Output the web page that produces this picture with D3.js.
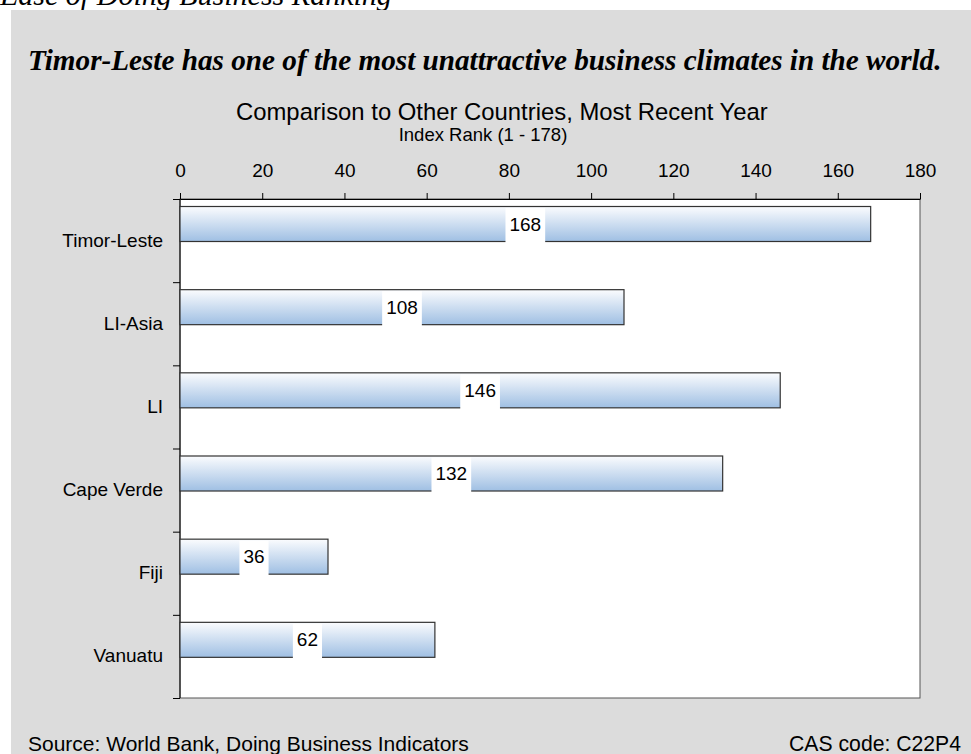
<!DOCTYPE html>
<html>
<head>
<meta charset="utf-8">
<script src="https://cdn.jsdelivr.net/npm/d3@7"></script>
<style>
  html, body { margin: 0; padding: 0; background: #ffffff; }
  svg { display: block; }
</style>
</head>
<body>
<script>
// Ease of Doing Business ranks, most recent year
const countries = ["Timor-Leste", "LI-Asia", "LI", "Cape Verde", "Fiji", "Vanuatu"];
const ranks = [168, 108, 146, 132, 36, 62];
const xTicks = [0, 20, 40, 60, 80, 100, 120, 140, 160, 180];

const W = 971, H = 754;
const plot = { left: 180, right: 920, top: 199, bottom: 698 };
const serif = "Liberation Serif, Times New Roman, serif";
const sans = "Liberation Sans, Arial, sans-serif";

const svg = d3.select("body").append("svg")
  .attr("width", W).attr("height", H);

const defs = svg.append("defs");
const grad = defs.append("linearGradient")
  .attr("id", "barFill").attr("x1", 0).attr("y1", 0).attr("x2", 0).attr("y2", 1);
grad.append("stop").attr("offset", "0%").attr("stop-color", "#fbfcfe");
grad.append("stop").attr("offset", "100%").attr("stop-color", "#9fbfe3");

// scale a text's font so that it spans the given width
function fitWidth(sel, width) {
  const fs = +sel.attr("font-size");
  const len = sel.node().getComputedTextLength();
  sel.attr("font-size", (fs * width / len).toFixed(2));
  return sel;
}

// page header, partly cut off at the top
fitWidth(svg.append("text")
  .attr("x", 0).attr("y", 5)
  .attr("font-family", serif).attr("font-style", "italic")
  .attr("font-size", 22).attr("fill", "#000")
  .text("Ease of Doing Business Ranking"), 392);

// grey chart panel
svg.append("rect")
  .attr("x", 11).attr("y", 10)
  .attr("width", W - 11).attr("height", H - 10)
  .attr("fill", "#dcdcdc");

fitWidth(svg.append("text")
  .attr("x", 28).attr("y", 70)
  .attr("font-family", serif)
  .attr("font-style", "italic").attr("font-weight", "bold")
  .attr("font-size", 26).attr("fill", "#000")
  .text("Timor-Leste has one of the most unattractive business climates in the world."), 914);

fitWidth(svg.append("text")
  .attr("x", 236).attr("y", 120)
  .attr("font-family", sans).attr("font-size", 24)
  .attr("fill", "#000")
  .text("Comparison to Other Countries, Most Recent Year"), 532);

svg.append("text")
  .attr("x", 483).attr("y", 141)
  .attr("text-anchor", "middle")
  .attr("font-family", sans).attr("font-size", 18.5)
  .attr("fill", "#000")
  .text("Index Rank (1 - 178)");

// plot area
svg.append("rect")
  .attr("x", plot.left).attr("y", plot.top)
  .attr("width", plot.right - plot.left).attr("height", plot.bottom - plot.top)
  .attr("fill", "#ffffff")
  .attr("stroke", "#555").attr("stroke-width", 1);

const x = d3.scaleLinear().domain([0, 180]).range([plot.left, plot.right]);
const y = d3.scaleBand().domain(countries).range([plot.top, plot.bottom]);

// top value axis
const xAxis = svg.append("g")
  .attr("transform", `translate(0,${plot.top})`)
  .call(d3.axisTop(x).tickValues(xTicks).tickSize(6).tickPadding(16).tickSizeOuter(0));
xAxis.select(".domain").attr("stroke", "#000");
xAxis.selectAll(".tick line").attr("stroke", "#000");
xAxis.selectAll(".tick text")
  .attr("font-family", sans).attr("font-size", 19).attr("fill", "#000");

// left category axis: ticks sit on band boundaries
const yAxis = svg.append("g").attr("transform", `translate(${plot.left},0)`);
yAxis.append("line")
  .attr("x1", 0).attr("x2", 0)
  .attr("y1", plot.top).attr("y2", plot.bottom)
  .attr("stroke", "#000");
const bounds = countries.map(c => y(c)).concat([plot.bottom]);
yAxis.selectAll("line.tk").data(bounds).enter().append("line")
  .attr("class", "tk")
  .attr("x1", -7).attr("x2", 0)
  .attr("y1", d => d + 0.5).attr("y2", d => d + 0.5)
  .attr("stroke", "#000");
yAxis.selectAll("text").data(countries).enter().append("text")
  .attr("x", -17)
  .attr("y", d => y(d) + y.bandwidth() / 2 + 6)
  .attr("text-anchor", "end")
  .attr("font-family", sans).attr("font-size", 19).attr("fill", "#000")
  .text(d => d);

// bars sit in the upper part of each band
const barOff = 7, barH = 35;
const bars = svg.append("g");
bars.selectAll("rect").data(ranks).enter().append("rect")
  .attr("x", x(0))
  .attr("y", (d, i) => y(countries[i]) + barOff + 0.5)
  .attr("width", d => x(d) - x(0))
  .attr("height", barH)
  .attr("fill", "url(#barFill)")
  .attr("stroke", "#333").attr("stroke-width", 1.2);

// value labels on white boxes at bar centre
const labels = svg.append("g");
ranks.forEach((v, i) => {
  const mx = (x(0) + x(v)) / 2;
  const top = y(countries[i]) + barOff;
  const t = labels.append("text")
    .attr("x", mx).attr("y", top + barH / 2 + 7)
    .attr("text-anchor", "middle")
    .attr("font-family", sans).attr("font-size", 19).attr("fill", "#000")
    .text(v);
  const w = t.node().getComputedTextLength() + 8;
  labels.insert("rect", "text")
    .attr("x", mx - w / 2).attr("y", top + 2)
    .attr("width", w).attr("height", barH)
    .attr("fill", "#ffffff");
});

// footer
svg.append("text")
  .attr("x", 28).attr("y", 751)
  .attr("font-family", sans).attr("font-size", 21).attr("fill", "#000")
  .text("Source: World Bank, Doing Business Indicators");
fitWidth(svg.append("text")
  .attr("x", 961).attr("y", 751)
  .attr("text-anchor", "end")
  .attr("font-family", sans).attr("font-size", 21).attr("fill", "#000")
  .text("CAS code: C22P4"), 172);
</script>
</body>
</html>
